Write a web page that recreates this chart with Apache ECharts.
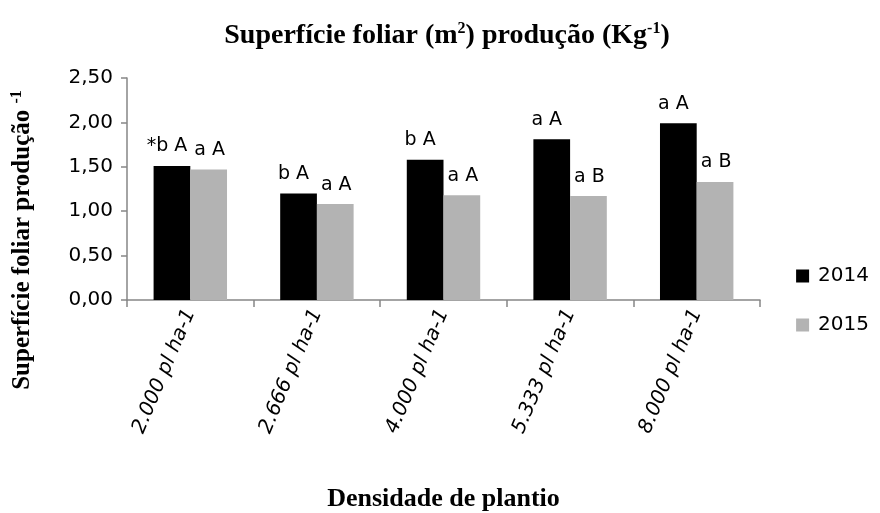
<!DOCTYPE html>
<html>
<head>
<meta charset="utf-8">
<script src="https://cdn.jsdelivr.net/npm/echarts@6/dist/echarts.min.js"></script>
<style>
  html, body { margin: 0; padding: 0; background: #fff; }
  #chart { width: 880px; height: 513px; }
</style>
</head>
<body>
<div id="chart"></div>
<script>
var categorias = ['2.000 pl ha-1', '2.666 pl ha-1', '4.000 pl ha-1', '5.333 pl ha-1', '8.000 pl ha-1'];
var valores2014 = [1.51, 1.20, 1.58, 1.81, 1.99];
var valores2015 = [1.47, 1.08, 1.18, 1.17, 1.33];
var letras2014 = ['*b A', 'b A', 'b A', 'a A', 'a A'];
var letras2015 = ['a A', 'a A', 'a A', 'a B', 'a B'];
var ticksY = ['0,00', '0,50', '1,00', '1,50', '2,00', '2,50'];

var myChart = echarts.init(document.getElementById('chart'));

var serif = "'Liberation Serif', 'DejaVu Serif', serif";
var sans = "'DejaVu Sans', sans-serif";

var option = {
    animation: false,
    title: {
        text: '{t|Superfície foliar (m}{s|2}{t|) produção (Kg}{s|-1}{t|)}',
        left: 442,
        textAlign: 'center',
        top: 14,
        textStyle: {
            rich: {
                t: { fontFamily: serif, fontWeight: 'bold', fontSize: 28, color: '#000', lineHeight: 34 },
                s: { fontFamily: serif, fontWeight: 'bold', fontSize: 16, color: '#000', lineHeight: 34, padding: [0, 0, 14, 0] }
            }
        }
    },
    legend: {
        orient: 'vertical',
        right: 6,
        top: 261,
        itemWidth: 13,
        itemHeight: 13,
        itemGap: 29,
        icon: 'rect',
        textStyle: { fontFamily: sans, fontSize: 20, color: '#000', padding: [0, 0, 0, 4] },
        data: ['2014', '2015']
    },
    graphic: [{
        type: 'text',
        x: 23,
        y: 240,
        rotation: Math.PI / 2,
        style: {
            text: '{t|Superfície foliar produção }{s|-1}',
            align: 'center',
            verticalAlign: 'middle',
            rich: {
                t: { fontFamily: serif, fontWeight: 'bold', fontSize: 25, fill: '#000', lineHeight: 30 },
                s: { fontFamily: serif, fontWeight: 'bold', fontSize: 16, fill: '#000', lineHeight: 30, padding: [0, 0, 12, 0] }
            }
        }
    }],
    grid: {
        left: 127,
        right: 120,
        top: 78,
        bottom: 210
    },
    xAxis: {
        type: 'category',
        data: categorias,
        name: 'Densidade de plantio',
        nameLocation: 'middle',
        nameGap: 186,
        nameTextStyle: { fontFamily: serif, fontWeight: 'bold', fontSize: 26, color: '#000' },
        axisLine: { lineStyle: { color: '#868686', width: 1.5 } },
        axisTick: { show: true, alignWithLabel: false, length: 7, lineStyle: { color: '#868686', width: 1.5 } },
        axisLabel: {
            rotate: 67,
            margin: 10,
            fontFamily: sans,
            fontStyle: 'italic',
            fontSize: 20,
            color: '#000'
        }
    },
    yAxis: {
        type: 'value',
        min: 0,
        max: 2.5,
        interval: 0.5,
        splitLine: { show: false },
        axisLine: { show: true, lineStyle: { color: '#868686', width: 1.5 } },
        axisTick: { show: true, length: 6, lineStyle: { color: '#868686', width: 1.5 } },
        axisLabel: {
            margin: 14,
            fontFamily: sans,
            fontSize: 20,
            color: '#000',
            formatter: function (v) { return ticksY[Math.round(v / 0.5)]; }
        }
    },
    series: [
        {
            name: '2014',
            type: 'bar',
            data: valores2014,
            barGap: '0%',
            barCategoryGap: '42%',
            itemStyle: { color: '#000000' },
            label: {
                show: true,
                position: 'top',
                distance: 10,
                offset: [-5, 0],
                fontFamily: sans,
                fontSize: 19,
                color: '#000',
                formatter: function (p) { return letras2014[p.dataIndex]; }
            }
        },
        {
            name: '2015',
            type: 'bar',
            data: valores2015,
            itemStyle: { color: '#b3b3b3' },
            label: {
                show: true,
                position: 'top',
                distance: 10,
                offset: [1, 0],
                fontFamily: sans,
                fontSize: 19,
                color: '#000',
                formatter: function (p) { return letras2015[p.dataIndex]; }
            }
        }
    ]
};

myChart.setOption(option);
</script>
</body>
</html>
